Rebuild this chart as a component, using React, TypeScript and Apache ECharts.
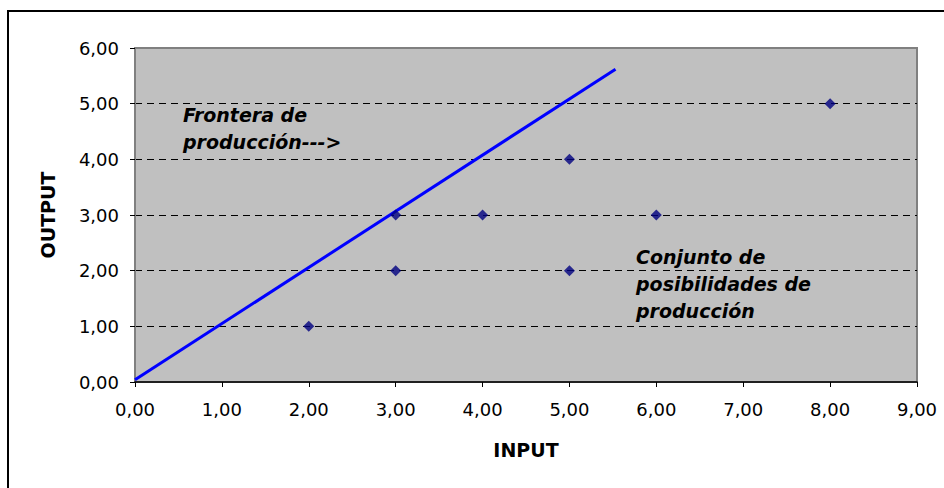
import React, { useEffect, useRef } from "react";
import * as echarts from "echarts";

const xTicks = [0, 1, 2, 3, 4, 5, 6, 7, 8, 9];
const yTicks = [0, 1, 2, 3, 4, 5, 6];
const inputs = [2, 3, 3, 4, 5, 5, 6, 8];
const outputs = [1, 3, 2, 3, 4, 2, 3, 5];
const frontierX = [0, 5.53];
const frontierY = [0.04, 5.62];
const xTitle = "INPUT";
const yTitle = "OUTPUT";
const note1 = ["Frontera de", "producción--->"];
const note2 = ["Conjunto de", "posibilidades de", "producción"];

const fmt = (v: number) => v.toFixed(2).replace(".", ",");

export default function App() {
  const ref = useRef<HTMLDivElement>(null);
  useEffect(() => {
    const chart = echarts.init(ref.current!, null, { renderer: "svg" });
    const font = "DejaVu Sans, sans-serif";
    chart.setOption({
      animation: false,
      backgroundColor: "#ffffff",
      textStyle: { fontFamily: font },
      grid: {
        left: 135,
        right: 27,
        top: 48,
        bottom: 106,
        show: true,
        backgroundColor: "#C0C0C0",
        borderColor: "#808080",
        borderWidth: 2,
      },
      xAxis: {
        type: "value",
        min: xTicks[0],
        max: xTicks[xTicks.length - 1],
        interval: 1,
        name: xTitle,
        nameLocation: "middle",
        nameGap: 58,
        nameTextStyle: { fontFamily: font, fontSize: 19, fontWeight: "bold", color: "#000" },
        axisLine: { show: true, onZero: false, lineStyle: { color: "#000", width: 1.5 } },
        axisTick: { show: true, length: 5, lineStyle: { color: "#000" } },
        axisLabel: { formatter: fmt, fontSize: 18, color: "#000", margin: 18, fontFamily: font },
        splitLine: { show: false },
      },
      yAxis: {
        type: "value",
        min: yTicks[0],
        max: yTicks[yTicks.length - 1],
        interval: 1,
        name: yTitle,
        nameLocation: "middle",
        nameRotate: 90,
        nameGap: 78,
        nameTextStyle: { fontFamily: font, fontSize: 19, fontWeight: "bold", color: "#000" },
        axisLine: { show: true, onZero: false, lineStyle: { color: "#808080", width: 2 } },
        axisTick: { show: true, length: 5, lineStyle: { color: "#000" } },
        axisLabel: { formatter: fmt, fontSize: 18, color: "#000", margin: 16, fontFamily: font },
        splitLine: {
          show: true,
          showMinLine: false,
          showMaxLine: false,
          lineStyle: { color: "#000", width: 1, type: [7, 5] },
        },
      },
      series: [
        {
          type: "line",
          data: frontierX.map((x, i) => [x, frontierY[i]]),
          symbol: "none",
          lineStyle: { color: "#0000FF", width: 3 },
          z: 3,
        },
        {
          type: "scatter",
          data: inputs.map((x, i) => [x, outputs[i]]),
          symbol: "diamond",
          symbolSize: 11,
          itemStyle: { color: "#000080" },
          z: 4,
        },
      ],
      graphic: [
        { type: "line", shape: { x1: 8, y1: 11, x2: 944, y2: 11 }, style: { stroke: "#000", lineWidth: 2 } },
        { type: "line", shape: { x1: 8, y1: 10, x2: 8, y2: 488 }, style: { stroke: "#000", lineWidth: 2 } },
        {
          type: "text",
          left: 183,
          top: 101,
          style: {
            text: note1.join("\n"),
            font: `italic bold 19px ${font}`,
            lineHeight: 27,
            fill: "#000",
          },
          z: 10,
        },
        {
          type: "text",
          left: 636,
          top: 243,
          style: {
            text: note2.join("\n"),
            font: `italic bold 19px ${font}`,
            lineHeight: 27,
            fill: "#000",
          },
          z: 10,
        },
      ],
    });
    return () => chart.dispose();
  }, []);
  return (
    <div
      ref={ref}
      style={{ position: "fixed", left: 0, top: 0, width: 944, height: 488 }}
    />
  );
}
